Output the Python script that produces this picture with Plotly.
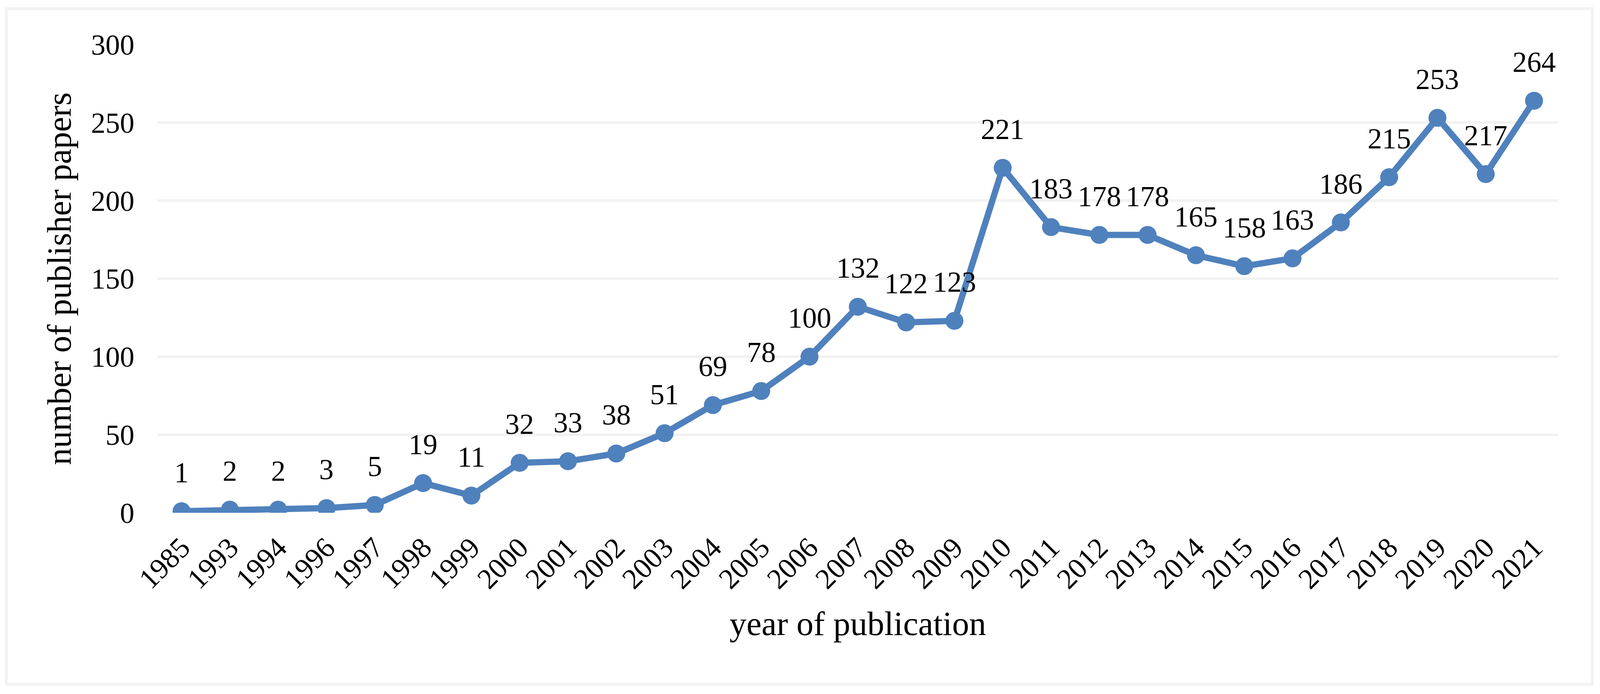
import plotly.graph_objects as go

years = ["1985", "1993", "1994", "1996", "1997", "1998", "1999", "2000", "2001", "2002",
         "2003", "2004", "2005", "2006", "2007", "2008", "2009", "2010", "2011", "2012",
         "2013", "2014", "2015", "2016", "2017", "2018", "2019", "2020", "2021"]
papers = [1, 2, 2, 3, 5, 19, 11, 32, 33, 38,
          51, 69, 78, 100, 132, 122, 123, 221, 183, 178,
          178, 165, 158, 163, 186, 215, 253, 217, 264]
y_ticks = [0, 50, 100, 150, 200, 250, 300]

# the browser viewport is 4096 px wide; horizontal layout is scaled from the 4289 px reference
REF_W = 4289
W, H = 4096, 1777
SX = W / REF_W
ML = round(422 * SX)
MR = W - round(4177 * SX)
MT, MB = 114, 464
FONT = "Liberation Serif"
BLUE = "#4F81BD"
GRID = "#F2F2F2"
TICK_SIZE = 74
TITLE_SIZE = 87

fig = go.Figure()
fig.add_trace(go.Scatter(
    x=years, y=papers, mode="lines+markers",
    line=dict(color=BLUE, width=16),
    marker=dict(color=BLUE, size=46, line=dict(width=0)),
    hoverinfo="x+y", showlegend=False,
))

for i, v in enumerate(papers):
    fig.add_annotation(x=i, y=v, xref="x", yref="y", text=str(v), showarrow=False,
                       yanchor="bottom", xanchor="center", yshift=56,
                       font=dict(family=FONT, size=TICK_SIZE, color="black"))

pw = W - ML - MR
ph = H - MT - MB
def px_x(p):
    return (p * SX - ML) / pw
def px_y(p):
    return (H - MB - p) / ph

fig.add_shape(type="rect", xref="paper", yref="paper",
              x0=px_x(17), x1=px_x(4268), y0=px_y(1752), y1=px_y(22),
              line=dict(color=GRID, width=7), fillcolor="rgba(0,0,0,0)", layer="below")

fig.update_layout(
    width=W, height=H,
    margin=dict(l=ML, r=MR, t=MT, b=MB, autoexpand=False),
    paper_bgcolor="white", plot_bgcolor="white",
    font=dict(family=FONT, color="black"),
    xaxis=dict(
        type="category", categoryorder="array", categoryarray=years,
        range=[-0.5, len(years) - 0.5],
        showgrid=False, zeroline=False, showline=False, ticks="",
        tickangle=-45, tickfont=dict(family=FONT, size=TICK_SIZE, color="black"),
        ticklabelstandoff=30,
        title=dict(text="year of publication", font=dict(family=FONT, size=TITLE_SIZE, color="black"),
                   standoff=42),
    ),
    yaxis=dict(
        range=[0, 300], tickvals=y_ticks, ticktext=[str(t) for t in y_ticks],
        showgrid=True, gridcolor=GRID, gridwidth=7, zeroline=False, showline=False,
        ticks="", tickfont=dict(family=FONT, size=TICK_SIZE, color="black"),
        ticklabelstandoff=58,
        title=dict(text="number of publisher papers", font=dict(family=FONT, size=TITLE_SIZE, color="black"),
                   standoff=22),
    ),
)

fig.write_html("out.html",
               post_script="document.body.style.margin='0';document.documentElement.style.overflow='hidden';",
               config={"displayModeBar": False})
